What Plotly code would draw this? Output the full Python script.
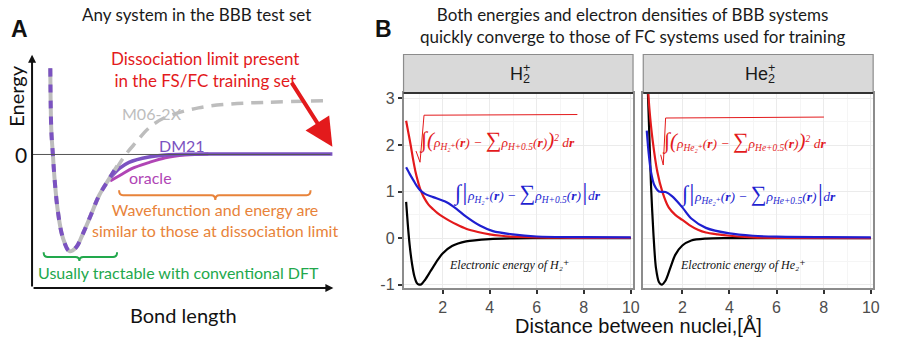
import plotly.graph_objects as go

# ---------------- Panel B data ----------------
x_tick_vals = [2, 4, 6, 8, 10]
y_tick_vals = [-1, 0, 1, 2, 3]
y_tick_text = ["-1", "0", "1", "2", "3"]
facet_labels = ['H<sub style="letter-spacing:-7px">2</sub><sup>+</sup>',
                'He<sub style="letter-spacing:-7px">2</sub><sup>+</sup>']

# H2+ : L2 density difference (red), L1 density difference (blue), energy (black)
h2_red_x = [0.45, 0.55, 0.65, 0.75, 0.85, 0.95, 1.05, 1.2, 1.4, 1.6, 1.8, 2.0, 2.3, 2.6, 3.0, 3.5, 4.0, 4.5, 5.0, 6.0, 7.0, 8.0, 10.0]
h2_red_y = [2.52, 2.25, 1.98, 1.68, 1.42, 1.22, 1.05, 0.88, 0.72, 0.62, 0.53, 0.46, 0.37, 0.29, 0.20, 0.13, 0.08, 0.05, 0.03, 0.015, 0.008, 0.005, 0.003]
h2_blue_x = [0.45, 0.6, 0.76, 0.9, 1.04, 1.25, 1.6, 2.17, 2.59, 3.0, 3.58, 4.14, 4.98, 6.0, 8.0, 10.0]
h2_blue_y = [1.52, 1.38, 1.24, 1.12, 1.03, 0.95, 0.88, 0.77, 0.63, 0.46, 0.27, 0.15, 0.08, 0.035, 0.02, 0.015]
h2_black_x = [0.45, 0.52, 0.6, 0.7, 0.8, 0.9, 1.0, 1.1, 1.25, 1.5, 1.75, 2.0, 2.4, 3.0, 4.0, 5.0, 6.0, 10.0]
h2_black_y = [0.78, 0.3, -0.15, -0.55, -0.82, -0.96, -1.0, -0.99, -0.9, -0.7, -0.5, -0.33, -0.17, -0.07, -0.02, -0.005, 0.0, 0.0]

# He2+
he2_red_x = [0.52, 0.6, 0.74, 0.94, 1.15, 1.42, 1.7, 2.0, 2.3, 2.66, 3.0, 3.5, 4.0, 5.0, 6.0, 10.0]
he2_red_y = [3.4, 2.79, 2.1, 1.42, 1.0, 0.66, 0.5, 0.39, 0.28, 0.18, 0.12, 0.08, 0.05, 0.015, 0.005, 0.0]
he2_blue_x = [0.49, 0.57, 0.67, 0.81, 1.01, 1.29, 1.56, 2.0, 2.38, 3.0, 4.0, 5.0, 6.0, 8.0, 10.0]
he2_blue_y = [2.31, 1.83, 1.42, 1.14, 1.0, 0.99, 0.9, 0.66, 0.42, 0.22, 0.1, 0.05, 0.03, 0.02, 0.015]
he2_black_x = [0.52, 0.6, 0.67, 0.77, 0.88, 1.01, 1.12, 1.29, 1.49, 1.7, 2.0, 2.38, 3.0, 4.0, 10.0]
he2_black_y = [3.4, 2.2, 1.14, 0.12, -0.64, -0.95, -1.0, -0.91, -0.64, -0.36, -0.16, -0.05, -0.01, 0.0, 0.0]

# ---------------- Panel A (schematic) data ----------------
well_x = [50.7, 51.7, 53.3, 55, 58.3, 63.3, 70, 76.7, 83.3, 91.7, 100, 110, 118.3]
well_e = [88.3, 25, 0, -25, -58, -85, -99, -95, -81.7, -61.7, -41.7, -25, -11.7]
m06_x = [117, 126.7, 136.7, 150, 166.7, 200, 233, 266.7, 330]
m06_e = [-15, 0, 12, 27, 38, 47.7, 51.7, 53.3, 55]
dm21_x = [110, 115, 120, 130, 150, 166.7, 186.7, 220, 335]
dm21_e = [-25, -19.5, -14.5, -8, -2.5, -0.5, 0.3, 0.5, 0.5]
oracle_x = [111, 118, 123.3, 133.3, 150, 166.7, 186.7, 210]
oracle_e = [-27, -23, -20, -14.3, -8.3, -3.3, -0.5, 0.5]

RED = "#E31A1C"
BLUE = "#1F1FD0"
PURPLE = "#7B52C1"
MAGENTA = "#B045B5"
GREY = "#BDBDBD"
ORANGE = "#E8833A"
GREEN = "#22A84C"
SANS = "Lato, Liberation Sans, sans-serif"
ARIAL = "Liberation Sans, Arial, sans-serif"
SERIF = "Liberation Serif, DejaVu Serif, serif"

fig = go.Figure()

# ---- Panel B traces ----
for xa, ya, rx, ry, bx, by, kx, ky in [
    ("x", "y", h2_red_x, h2_red_y, h2_blue_x, h2_blue_y, h2_black_x, h2_black_y),
    ("x2", "y2", he2_red_x, he2_red_y, he2_blue_x, he2_blue_y, he2_black_x, he2_black_y),
]:
    fig.add_trace(go.Scatter(x=kx, y=ky, mode="lines", line=dict(color="black", width=2.2, shape="spline", smoothing=0.8), xaxis=xa, yaxis=ya))
    fig.add_trace(go.Scatter(x=rx, y=ry, mode="lines", line=dict(color=RED, width=2.2, shape="spline", smoothing=0.8), xaxis=xa, yaxis=ya))
    fig.add_trace(go.Scatter(x=bx, y=by, mode="lines", line=dict(color=BLUE, width=2.2, shape="spline", smoothing=0.8), xaxis=xa, yaxis=ya))

# ---- Panel A traces ----
fig.add_trace(go.Scatter(x=m06_x, y=m06_e, mode="lines", line=dict(color=GREY, width=3.5, dash="12px,8px", shape="spline"), xaxis="x3", yaxis="y3"))
fig.add_trace(go.Scatter(x=oracle_x, y=oracle_e, mode="lines", line=dict(color=MAGENTA, width=3, shape="spline"), xaxis="x3", yaxis="y3"))
fig.add_trace(go.Scatter(x=dm21_x, y=dm21_e, mode="lines", line=dict(color=PURPLE, width=3.5, shape="spline"), xaxis="x3", yaxis="y3"))
fig.add_trace(go.Scatter(x=well_x, y=well_e, mode="lines", line=dict(color=GREY, width=4, shape="spline"), xaxis="x3", yaxis="y3"))
fig.add_trace(go.Scatter(x=well_x, y=well_e, mode="lines", line=dict(color=PURPLE, width=4, dash="8px,8px", shape="spline"), xaxis="x3", yaxis="y3"))

# ---- axes ----
common_x = dict(range=[0.34, 10.1], tickvals=x_tick_vals, ticks="outside", ticklen=4, tickwidth=1.5,
                tickcolor="#333333", tickfont=dict(family=ARIAL, size=16, color="#4D4D4D"),
                showgrid=True, gridcolor="#EBEBEB", gridwidth=1.2,
                minor=dict(tickvals=[1, 3, 5, 7, 9], showgrid=True, gridcolor="#F5F5F5", gridwidth=1),
                showline=True, mirror=True, linecolor="#8C8C8C", linewidth=1.5, zeroline=False)
common_y = dict(range=[-1.08, 3.12], tickvals=y_tick_vals, ticktext=y_tick_text,
                showgrid=True, gridcolor="#EBEBEB", gridwidth=1.2,
                minor=dict(tickvals=[-0.5, 0.5, 1.5, 2.5], showgrid=True, gridcolor="#F5F5F5", gridwidth=1),
                showline=True, mirror=True, linecolor="#8C8C8C", linewidth=1.5, zeroline=False,
                domain=[0.168, 0.738])

fig.update_layout(
    width=900, height=351, autosize=False,
    margin=dict(l=0, r=0, t=0, b=0),
    paper_bgcolor="white", plot_bgcolor="white", showlegend=False,
    xaxis=dict(domain=[0.4519, 0.709], anchor="y", **common_x),
    yaxis=dict(anchor="x", ticks="outside", ticklen=4, tickwidth=1.5, tickcolor="#333333",
               tickfont=dict(family=ARIAL, size=16, color="#4D4D4D"), **common_y),
    xaxis2=dict(domain=[0.7203, 0.9778], anchor="y2", **common_x),
    yaxis2=dict(anchor="x2", ticks="", showticklabels=False, **common_y),
    xaxis3=dict(domain=[0, 370 / 900], range=[0, 370], visible=False, anchor="y3"),
    yaxis3=dict(domain=[0, 1], range=[-196, 155], visible=False, anchor="x3"),
)

shapes = []
annotations = []

def pann(x, y, text, font, **kw):
    d = dict(xref="paper", yref="paper", x=x / 900, y=1 - y / 351, text=text, showarrow=False,
             xanchor="center", yanchor="middle", font=font)
    d.update(kw)
    annotations.append(d)

# strips
for x0, x1, lab in [(406.7, 638, facet_labels[0]), (648.3, 880, facet_labels[1])]:
    shapes.append(dict(type="rect", xref="paper", yref="paper", x0=x0 / 900, x1=x1 / 900,
                       y0=1 - 92 / 351, y1=1 - 52.7 / 351, fillcolor="#D9D9D9",
                       line=dict(color="#8C8C8C", width=1.2), layer="above"))
    shapes.append(dict(type="line", xref="paper", yref="paper", x0=x0 / 900, x1=x1 / 900,
                       y0=1 - 92 / 351, y1=1 - 92 / 351, line=dict(color="#333333", width=2)))
    pann((x0 + x1) / 2 + 2, 72, lab, dict(family=ARIAL, size=18, color="#1A1A1A"))

# formulas panel B
def red_formula(sub, sub2):
    return ('<span style="font-size:22px">∫</span><span style="font-size:21px">(</span>ρ<sub>' + sub +
            '</sub>(<b>r</b>) − <span style="font-size:22px">∑</span>ρ<sub>' + sub2 +
            '</sub>(<b>r</b>)<span style="font-size:21px">)</span><sup>2</sup> d<b>r</b>')

def blue_formula(sub, sub2):
    return ('<span style="font-size:22px">∫</span><span style="font-size:25px">|</span>ρ<sub>' + sub +
            '</sub>(<b>r</b>) − <span style="font-size:22px">∑</span>ρ<sub>' + sub2 +
            '</sub>(<b>r</b>)<span style="font-size:25px">|</span>d<b>r</b>')

for xr, yr, rx, ry, bx, by, kx, ky, s1, s2, name, sq in [
    ("x", "y", 4.3, 2.1, 5.6, 1.0, 4.84, -0.58, "H₂⁺", "H+0.5", "H₂⁺",
     [(0.87, 1.87), (1.04, 1.63), (1.21, 2.64), (7.73, 2.655)]),
    ("x2", "y2", 4.6, 2.08, 5.2, 0.97, 4.57, -0.57, "He₂⁺", "He+0.5", "He₂⁺",
     [(1.08, 1.79), (1.19, 1.57), (1.29, 2.58), (8.01, 2.6)]),
]:
    annotations.append(dict(xref=xr, yref=yr, x=rx, y=ry, text=red_formula(s1, s2), showarrow=False,
                            xanchor="center", yanchor="middle",
                            font=dict(family=SERIF, size=13.5, color=RED, style="italic")))
    annotations.append(dict(xref=xr, yref=yr, x=bx, y=by, text=blue_formula(s1, s2), showarrow=False,
                            xanchor="center", yanchor="middle",
                            font=dict(family=SERIF, size=13.5, color=BLUE, style="italic")))
    annotations.append(dict(xref=xr, yref=yr, x=kx, y=ky, text="Electronic energy of " + name, showarrow=False,
                            xanchor="center", yanchor="middle",
                            font=dict(family=SERIF, size=12, color="#111111", style="italic")))
    path = "M " + " L ".join(f"{a},{b}" for a, b in sq)
    shapes.append(dict(type="path", xref=xr, yref=yr, path=path, line=dict(color=RED, width=1)))

# Panel B titles
pann(387, 27, "<b>B</b>", dict(family=ARIAL, size=23, color="#111111"))
pann(637, 23.5, "Both energies and electron densities of BBB systems<br>quickly converge to those of FC systems used for training",
     dict(family=SANS, size=17, color="#1A1A1A"))
pann(644, 331, "Distance between nuclei,[Å]", dict(family=ARIAL, size=20, color="#111111"))

# ---- Panel A decorations ----
shapes.append(dict(type="line", xref="x3", yref="y3", x0=32.3, x1=333, y0=0, y1=0,
                   line=dict(color="#555555", width=1)))
annotations.append(dict(xref="x3", yref="y3", axref="x3", ayref="y3", x=32.3, y=102, ax=32.3, ay=-136.7,
                        text="", showarrow=True, arrowhead=2, arrowsize=0.8, arrowwidth=2, arrowcolor="#111111"))
annotations.append(dict(xref="x3", yref="y3", axref="x3", ayref="y3", x=336, y=-136.7, ax=32.3, ay=-136.7,
                        text="", showarrow=True, arrowhead=2, arrowsize=0.8, arrowwidth=2, arrowcolor="#111111"))
annotations.append(dict(xref="x3", yref="y3", axref="x3", ayref="y3", x=335, y=8, ax=293, ay=75,
                        text="", showarrow=True, arrowhead=2, arrowsize=1.4, arrowwidth=4, arrowcolor=RED))

def brace(x1, x2, xc, yh, up, down, r=4):
    return (f"M {x1},{up} Q {x1},{yh} {x1 + r},{yh} L {xc - r},{yh} Q {xc},{yh} {xc},{down} "
            f"Q {xc},{yh} {xc + r},{yh} L {x2 - r},{yh} Q {x2},{yh} {x2},{up}")

shapes.append(dict(type="path", xref="x3", yref="y3", path=brace(120, 313, 217, -41.7, -36.7, -46.7),
                   line=dict(color=ORANGE, width=2)))
shapes.append(dict(type="path", xref="x3", yref="y3", path=brace(44, 118, 80, -105, -100, -109),
                   line=dict(color=GREEN, width=2)))

def txt(x, y, text, color, size, **kw):
    d = dict(xref="x3", yref="y3", x=x, y=y, text=text, showarrow=False,
             xanchor="center", yanchor="middle", font=dict(family=SANS, size=size, color=color))
    d.update(kw)
    annotations.append(d)

txt(198, 143, "Any system in the BBB test set", "#1A1A1A", 17)
annotations.append(dict(xref="x3", yref="y3", x=19.5, y=128, text="<b>A</b>", showarrow=False,
                        xanchor="center", yanchor="middle", font=dict(family=ARIAL, size=23, color="#111111")))
txt(16, 60, "Energy", "#111111", 20, textangle=-90)
txt(21, 0, "0", "#111111", 21)
txt(184.5, -164, "Bond length", "#111111", 20)
txt(207, 87, "Dissociation limit present<br>in the FS/FC training set", RED, 17)
txt(153, 42, "M06-2X", GREY, 16)
txt(183, 9, "DM21", PURPLE, 16)
txt(151.7, -24, "oracle", MAGENTA, 16)
txt(217, -66.7, "Wavefunction and energy are<br>similar to those at dissociation limit", ORANGE, 16)
txt(180, -121, "Usually tractable with conventional DFT", GREEN, 16)

fig.update_layout(shapes=shapes, annotations=annotations)
fig.write_html("out.html")
